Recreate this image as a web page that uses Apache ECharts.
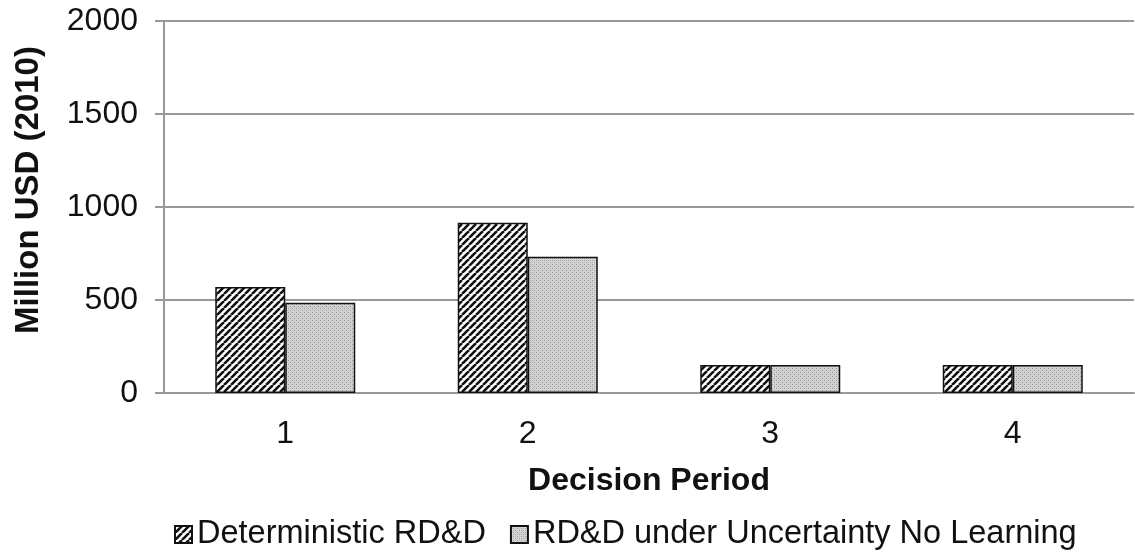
<!DOCTYPE html>
<html><head><meta charset="utf-8">
<script src="https://cdn.jsdelivr.net/npm/echarts@6/dist/echarts.min.js"></script>
<style>html,body{margin:0;padding:0;background:#fff}#c{width:1135px;height:553px}</style>
</head><body><div id="c"></div>
<script>
const categories = ['1', '2', '3', '4'];
const deterministic = [570, 915, 150, 150];
const uncertainty = [485, 733, 150, 150];
const seriesNames = ['Deterministic RD&D', 'RD&D under Uncertainty No Learning'];

function hatch() {
  const c = document.createElement('canvas');
  const s = 7; c.width = s; c.height = s;
  const g = c.getContext('2d');
  g.fillStyle = '#fff'; g.fillRect(0, 0, s, s);
  g.strokeStyle = '#111'; g.lineWidth = 2.6;
  for (let k = -1; k <= 1; k++) {
    g.beginPath(); g.moveTo(k * s, s); g.lineTo(k * s + s, 0); g.stroke();
  }
  return c;
}
function dots() {
  const c = document.createElement('canvas');
  c.width = 4; c.height = 4;
  const g = c.getContext('2d');
  g.fillStyle = '#d4d4d4'; g.fillRect(0, 0, 4, 4);
  g.fillStyle = '#9a9a9a';
  g.fillRect(0, 0, 1, 1); g.fillRect(2, 2, 1, 1);
  g.fillStyle = '#bdbdbd';
  g.fillRect(2, 0, 1, 1); g.fillRect(0, 2, 1, 1);
  return c;
}
const chart = echarts.init(document.getElementById('c'));
const font = '"Liberation Sans", Arial, sans-serif';
chart.setOption({
  animation: false,
  textStyle: { fontFamily: font },
  grid: { left: 164, right: 1, top: 21, bottom: 160, outerBoundsMode: 'none', containLabel: false },
  legend: {
    top: 513, left: 169, itemWidth: 17, itemHeight: 17, itemGap: 24, icon: 'rect',
    textStyle: { fontSize: 32.5, color: '#111', fontFamily: font, padding: 0 },
    data: seriesNames
  },
  xAxis: {
    type: 'category', data: categories,
    name: 'Decision Period', nameLocation: 'middle', nameGap: 72,
    nameTextStyle: { fontSize: 32, fontWeight: 'bold', color: '#111' },
    axisLine: { lineStyle: { color: '#999', width: 2 } },
    axisTick: { lineStyle: { color: '#999', width: 2 }, length: 7 },
    axisLabel: { fontSize: 32, color: '#111', margin: 25 }
  },
  yAxis: {
    type: 'value', min: 0, max: 2000, interval: 500,
    name: 'Million USD (2010)', nameLocation: 'middle', nameGap: 119,
    nameTextStyle: { fontSize: 33, fontWeight: 'bold', color: '#111', padding: [0, 0, 0, 34] },
    axisLine: { show: true, lineStyle: { color: '#999', width: 2 } },
    axisTick: { show: true, lineStyle: { color: '#999', width: 2 }, length: 9 },
    axisLabel: { fontSize: 32, color: '#111', margin: 26, formatter: v => String(v) },
    splitLine: { lineStyle: { color: '#999', width: 2 } }
  },
  series: [
    { name: seriesNames[0], type: 'bar', data: deterministic, barWidth: 70, barGap: '0%',
      itemStyle: { color: { image: hatch(), repeat: 'repeat' }, borderColor: '#111', borderWidth: 1.5 } },
    { name: seriesNames[1], type: 'bar', data: uncertainty, barWidth: 70, barGap: '0%',
      itemStyle: { color: { image: dots(), repeat: 'repeat' }, borderColor: '#111', borderWidth: 1.5 } }
  ]
});
</script></body></html>
